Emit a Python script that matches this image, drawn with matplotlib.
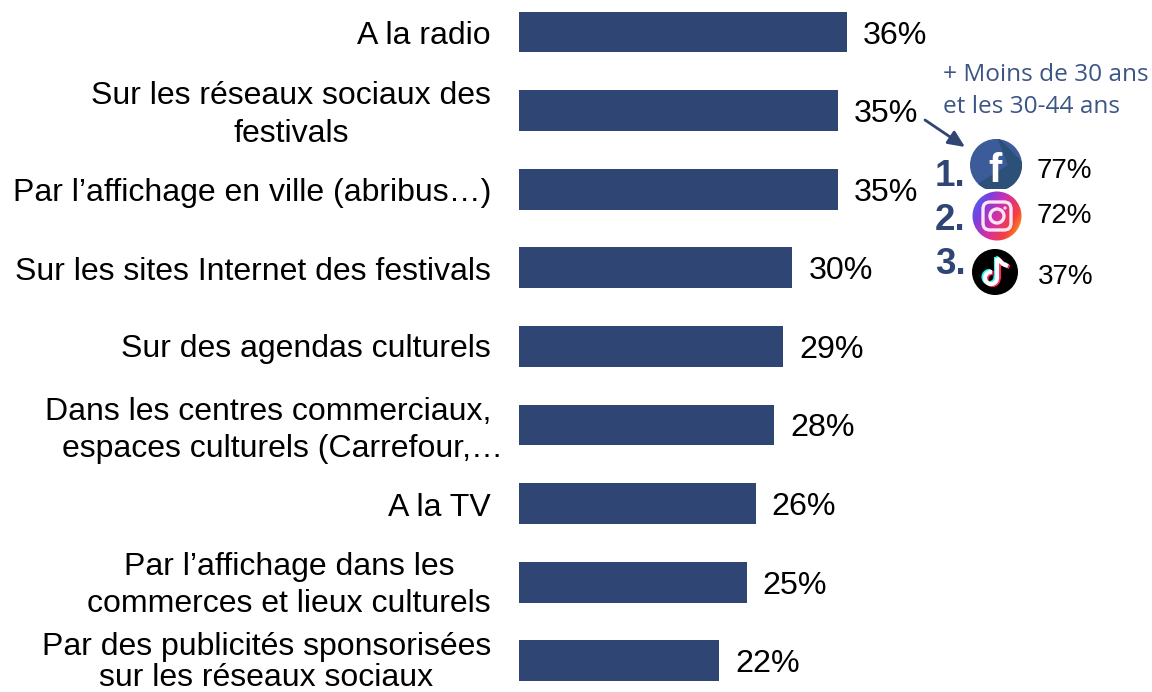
import matplotlib
matplotlib.use("Agg")
import matplotlib.pyplot as plt
import numpy as np
from matplotlib.patches import Circle, FancyBboxPatch, Polygon, Rectangle, Arc

plt.rcParams['font.family'] = ['Liberation Sans', 'DejaVu Sans']

categories = ["A la radio", "Sur les réseaux sociaux des festivals", "Par l’affichage en ville (abribus…)",
              "Sur les sites Internet des festivals", "Sur des agendas culturels",
              "Dans les centres commerciaux, espaces culturels (Carrefour,…", "A la TV",
              "Par l’affichage dans les commerces et lieux culturels",
              "Par des publicités sponsorisées sur les réseaux sociaux"]
values = [36, 35, 35, 30, 29, 28, 26, 25, 22]
# how the labels are broken and placed: (line, centre or right edge, y in px, anchor)
label_lines = [("A la radio", 491, 33, "right"),
               ("Sur les réseaux sociaux des", 291, 93, "center"),
               ("festivals", 291, 130, "center"),
               ("Par l’affichage en ville (abribus…)", 491, 190, "right"),
               ("Sur les sites Internet des festivals", 491, 268, "right"),
               ("Sur des agendas culturels", 491, 346, "right"),
               ("Dans les centres commerciaux,", 491, 408, "right"),
               ("espaces culturels (Carrefour,…", 503, 445, "right"),
               ("A la TV", 491, 504, "right"),
               ("Par l’affichage dans les", 289, 564, "center"),
               ("commerces et lieux culturels", 491, 601, "right"),
               ("Par des publicités sponsorisées", 491, 643, "right"),
               ("sur les réseaux sociaux", 266, 675, "center")]

social_ranks = ["1.", "2.", "3."]
social_values = ["77%", "72%", "37%"]
note_lines = ["+ Moins de 30 ans", "et les 30-44 ans"]

navy = "#2F4675"
W, H = 1152, 692

fig = plt.figure(figsize=(W / 100, H / 100), dpi=100)

# bars, 9.11 px per percent from x=519, rows 78.6 px apart
ax = fig.add_axes([519 / W, 0, (W - 519) / W, 1])
ax.barh(range(len(values)), values, height=0.52, color=navy)
ax.set_xlim(0, (W - 519) / 9.11)
ax.set_ylim((H - 32) / 78.6, -32 / 78.6)
ax.axis("off")
for i, v in enumerate(values):
    ax.annotate("%d%%" % v, (v, i), xytext=(11.5, 0), textcoords="offset points",
                va="center_baseline", ha="left", fontsize=23.2, color="black")

# overlay in pixel coordinates for labels and the social block
ov = fig.add_axes([0, 0, 1, 1])
ov.set_xlim(0, W)
ov.set_ylim(H, 0)
ov.axis("off")
ov.patch.set_alpha(0)

for txt, x, y, ha in label_lines:
    ov.text(x, y, txt, ha=ha, va="center_baseline", fontsize=23, color="black")

for txt, y in zip(note_lines, [72, 104]):
    ov.text(943, y, txt, ha="left", va="center_baseline", fontsize=17.6,
            color="#3C5585", family=["Open Sans", "DejaVu Sans"])

ov.annotate("", xy=(965, 147), xytext=(925, 120),
            arrowprops=dict(arrowstyle="-|>,head_width=0.45,head_length=1.0", color=navy, lw=2,
                            shrinkA=0, shrinkB=0))

for txt, y in zip(social_ranks, [172, 217, 261]):
    ov.text(935, y, txt, ha="left", va="center_baseline", fontsize=26.5, fontweight="bold", color=navy)
for txt, x, y in zip(social_values, [1037, 1037, 1038], [168, 213, 274]):
    ov.text(x, y, txt, ha="left", va="center_baseline", fontsize=20, color="black")

# facebook
fb = Circle((996, 165), 26, color="#3B5B99", lw=0)
ov.add_patch(fb)
shade = Polygon([[996, 135], [1030, 170], [1030, 195], [975, 195], [976, 185], [1008, 165]],
                closed=True, color="#2C5078", lw=0)
ov.add_patch(shade)
shade.set_clip_path(fb)
ov.add_patch(Rectangle((965, 189), 60, 8, color="white", lw=0))
ov.text(995, 171, "f", ha="center", va="center", fontsize=29, fontweight="bold", color="white",
        family=["Liberation Sans"])

# instagram
gx, gy = np.meshgrid(np.linspace(0, 1, 60), np.linspace(0, 1, 60))
grad = 0.65 * gx + 0.35 * gy
cmap = matplotlib.colors.LinearSegmentedColormap.from_list(
    "ig", ["#2F7BF0", "#7A3FE0", "#D42FA8", "#F5403F", "#FFC400"])
im = ov.imshow(grad, extent=(972, 1022, 241, 191), cmap=cmap, aspect="auto", zorder=2)
clip = Circle((997, 216), 24.5, transform=ov.transData)
im.set_clip_path(clip)
ov.set_xlim(0, W)
ov.set_ylim(H, 0)
ov.add_patch(FancyBboxPatch((983, 202), 28, 28, boxstyle="round,pad=0,rounding_size=7",
                            fc="none", ec="#FBE6F2", lw=2.4, zorder=3))
ov.add_patch(Circle((997, 216), 7, fc="none", ec="#FBE6F2", lw=2.4, zorder=3))
ov.add_patch(Circle((1005, 208), 1.6, color="#FBE6F2", lw=0, zorder=3))

# tiktok
ov.add_patch(Circle((995, 272), 23, color="black", lw=0, zorder=2))
for dx, dy, col in [(-1.5, -1, "#25F4EE"), (1.5, 1, "#FE2C55"), (0, 0, "white")]:
    ov.add_patch(Arc((991 + dx, 278 + dy), 12, 12, theta1=-20, theta2=280, color=col, lw=3,
                     zorder=3))
    ov.plot([997 + dx, 997 + dx], [278 + dy, 258 + dy], color=col, lw=3, zorder=3,
            solid_capstyle="butt")
    ov.plot([997 + dx, 1003 + dx, 1008 + dx], [258 + dy, 264 + dy, 266 + dy], color=col, lw=3,
            zorder=3, solid_capstyle="butt")

fig.savefig("out.png", dpi=100, facecolor="white")
